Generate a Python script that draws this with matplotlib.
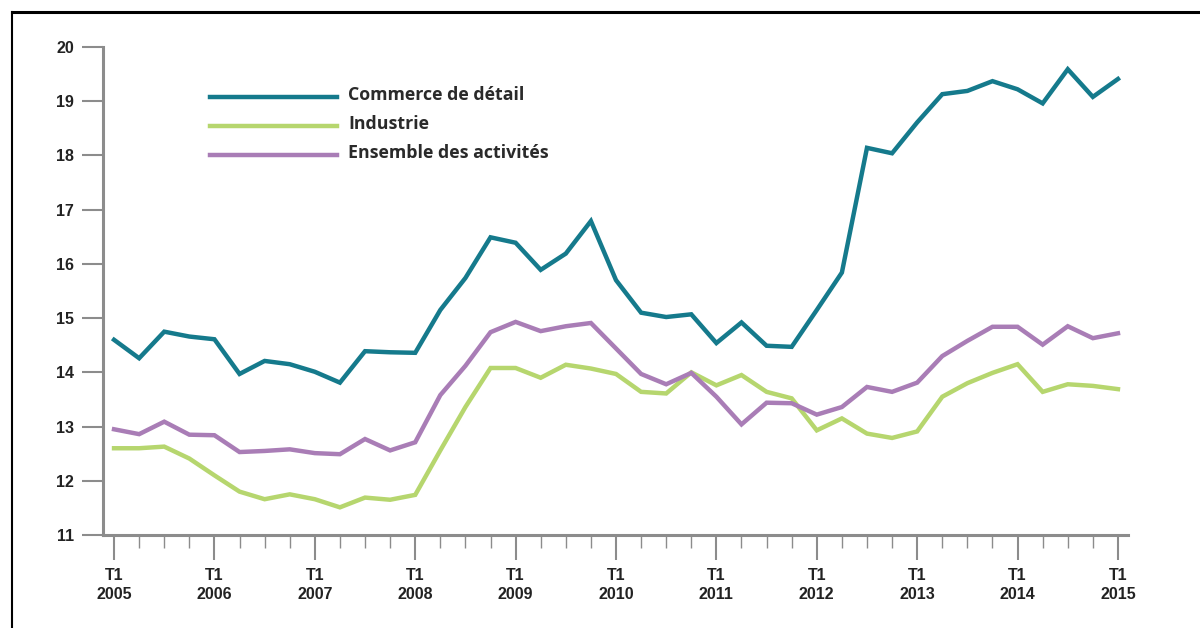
import numpy as np
import matplotlib
matplotlib.use("Agg")
import matplotlib.pyplot as plt

# quarterly data, T1 2005 -> T1 2015
years = list(range(2005, 2016))
commerce = [14.6, 14.26, 14.75, 14.66, 14.61, 13.97, 14.21, 14.15, 14.01, 13.81,
            14.39, 14.37, 14.36, 15.15, 15.74, 16.49, 16.39, 15.89, 16.19, 16.79,
            15.7, 15.1, 15.02, 15.07, 14.54, 14.92, 14.49, 14.47, 15.15, 15.84,
            18.14, 18.04, 18.61, 19.13, 19.19, 19.37, 19.22, 18.96, 19.59, 19.08, 19.41]
industrie = [12.6, 12.6, 12.63, 12.41, 12.1, 11.8, 11.66, 11.75, 11.66, 11.51,
             11.69, 11.65, 11.74, 12.56, 13.36, 14.08, 14.08, 13.9, 14.14, 14.07,
             13.97, 13.64, 13.61, 14.0, 13.76, 13.95, 13.64, 13.52, 12.93, 13.15,
             12.87, 12.79, 12.91, 13.55, 13.8, 13.99, 14.15, 13.64, 13.78, 13.75, 13.69]
ensemble = [12.95, 12.86, 13.09, 12.85, 12.84, 12.53, 12.55, 12.58, 12.51, 12.49,
            12.77, 12.56, 12.71, 13.58, 14.12, 14.74, 14.93, 14.76, 14.85, 14.91,
            14.44, 13.97, 13.78, 13.99, 13.55, 13.04, 13.44, 13.43, 13.22, 13.36,
            13.73, 13.64, 13.81, 14.3, 14.58, 14.84, 14.84, 14.51, 14.85, 14.63, 14.72]
labels = ["Commerce de détail", "Industrie", "Ensemble des activités"]
colors = ["#157a8c", "#b6d66e", "#a97db6"]

plt.rcParams['font.family'] = ['Liberation Sans Narrow', 'Liberation Sans', 'DejaVu Sans']

fig = plt.figure(figsize=(12, 6.28), dpi=100)
ax = fig.add_axes([103/1200, 1-535/628, 1025/1200, 488/628])

x = np.arange(len(commerce))
for ser, c in zip([commerce, industrie, ensemble], colors):
    ax.plot(x, ser, color=c, lw=3.2, solid_joinstyle='miter')

ax.set_ylim(11, 20)
ax.set_xlim(-0.44, 40.4)
ax.set_yticks(range(11, 21))
ax.set_xticks(np.arange(0, 41, 4))
ax.set_xticks(np.arange(0, 41), minor=True)
ax.set_xticklabels(["T1\n%d" % y for y in years])

for s in ["top", "right"]:
    ax.spines[s].set_visible(False)
for s in ["left", "bottom"]:
    ax.spines[s].set_color("#8c8c8c")
    ax.spines[s].set_linewidth(2.2)

ax.tick_params(axis="y", length=15, width=1.5, color="#8c8c8c", labelsize=11.5, pad=6,
               labelcolor="#222222")
ax.tick_params(axis="x", which="major", length=18, width=1.5, color="#8c8c8c",
               labelsize=11.5, pad=6, labelcolor="#222222")
ax.tick_params(axis="x", which="minor", length=9, width=1.0, color="#8c8c8c")
for t in ax.get_xticklabels() + ax.get_yticklabels():
    t.set_linespacing(1.3)
    t.set_fontweight("bold")

# legend drawn by hand
leg_y = [97, 126, 155]
for lab, c, yy in zip(labels, colors, leg_y):
    fy = 1 - yy/628
    fig.add_artist(plt.Line2D([210/1200, 337/1200], [fy, fy], color=c, lw=3.2,
                              transform=fig.transFigure))
    fig.text(348/1200, 1 - (yy - 2)/628, lab, fontsize=12.8, fontweight="bold",
             family=["Open Sans", "DejaVu Sans"], va="center", ha="left", color="#2a2a2a")

# frame at top and left
fig.add_artist(plt.Line2D([12/1200, 1], [1-11.5/628, 1-11.5/628], color="black", lw=2.2,
                          transform=fig.transFigure))
fig.add_artist(plt.Line2D([12/1200, 12/1200], [0, 1-11.5/628], color="black", lw=1.5,
                          transform=fig.transFigure))

fig.savefig("out.png", dpi=100)
